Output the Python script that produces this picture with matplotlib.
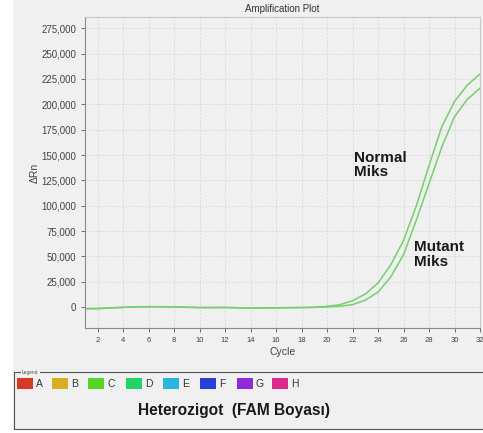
import numpy as np
import matplotlib.pyplot as plt
from matplotlib.patches import Rectangle
from matplotlib.ticker import FuncFormatter

plt.rcParams['font.family'] = ['Liberation Sans', 'DejaVu Sans']

cycles = np.arange(1, 33)
normal = [-1500, -1500, -800, -200, 300, 500, 500, 300, 0, -300, -300, -200,
          -500, -800, -500, -600, -400, -300, 0, 800, 2500, 6500, 13000, 24000,
          42000, 66000, 100000, 140000, 178000, 203000, 219000, 230000]
mutant = [-1500, -1200, -600, -100, 300, 500, 400, 200, -100, -400, -400, -300,
          -600, -900, -700, -700, -500, -400, -200, 300, 1000, 2500, 7000, 15000,
          30000, 52000, 86000, 122000, 158000, 188000, 205000, 216000]

legend_names = ['A', 'B', 'C', 'D', 'E', 'F', 'G', 'H']
legend_colors = ['#d63a25', '#d6b020', '#58d424', '#22d468', '#28b6dc', '#2a3ed8', '#8e2ad8', '#dc2a8c']

bg = '#f0f0f0'
fig = plt.figure(figsize=(4.83, 4.33), dpi=100, facecolor='white')
fig.patches.append(Rectangle((13/483, 0.008), 1, 1, transform=fig.transFigure,
                             facecolor=bg, edgecolor='none', zorder=-10))

ax = fig.add_axes([85/483, 0.2425, 0.818, 0.718])
ax.set_facecolor(bg)
ax.plot(cycles, normal, color='#74d06a', lw=1.1)
ax.plot(cycles, mutant, color='#74d06a', lw=1.1)
ax.set_xlim(1, 32)
ax.set_ylim(-20500, 286000)
ax.set_xticks(np.arange(2, 33, 2))
ax.set_yticks(np.arange(0, 275001, 25000))
ax.yaxis.set_major_formatter(FuncFormatter(lambda v, p: f'{int(v):,}'))
ax.tick_params(axis='x', labelsize=5.5, colors='#555555', length=3, width=0.6, labelcolor='#444444')
ax.tick_params(axis='y', labelsize=7, colors='#555555', length=3, width=0.6, labelcolor='#444444')
ax.grid(True, color='#d4d4d4', linestyle=(0, (2, 2)), lw=0.6)
for s in ['left', 'bottom']:
    ax.spines[s].set_color('#8a8a8a')
for s in ['top', 'right']:
    ax.spines[s].set_color('#c8c8c8')
ax.set_title('Amplification Plot', fontsize=7, color='#333333', pad=4)
ax.set_xlabel('Cycle', fontsize=7.5, color='#444444', labelpad=2)
ax.set_ylabel('ΔRn', fontsize=7.5, color='#444444', labelpad=1)

ax.text(22.1, 140000, 'Normal\nMiks', fontsize=11, fontweight='bold', color='#1a1a1a',
        va='center', ha='left', linespacing=1.05)
ax.text(26.8, 52000, 'Mutant\nMiks', fontsize=11, fontweight='bold', color='#1a1a1a',
        va='center', ha='left', linespacing=1.05)

# legend panel
lax = fig.add_axes([14/483, 0.009, 1.0, 0.132])
lax.set_facecolor(bg)
lax.set_xlim(0, 483)
lax.set_ylim(57, 0)
lax.set_xticks([])
lax.set_yticks([])
for s in lax.spines.values():
    s.set_color('#555555')
    s.set_linewidth(0.8)
lax.text(8, 1, 'Legend', fontsize=3.5, color='#555555', va='center', ha='left',
         bbox=dict(facecolor=bg, edgecolor='none', pad=1))
x0 = [3, 38, 74, 112, 149, 186, 223, 258]
for xs, name, col in zip(x0, legend_names, legend_colors):
    lax.add_patch(Rectangle((xs, 6), 16, 11, facecolor=col, edgecolor='none'))
    lax.text(xs + 19, 12, name, fontsize=7.5, color='#333333', va='center', ha='left')
lax.text(220, 38, 'Heterozigot  (FAM Boyası)', fontsize=11.2, fontweight='bold',
         color='#1a1a1a', va='center', ha='center')

fig.savefig('out.png', dpi=100, facecolor='white')
